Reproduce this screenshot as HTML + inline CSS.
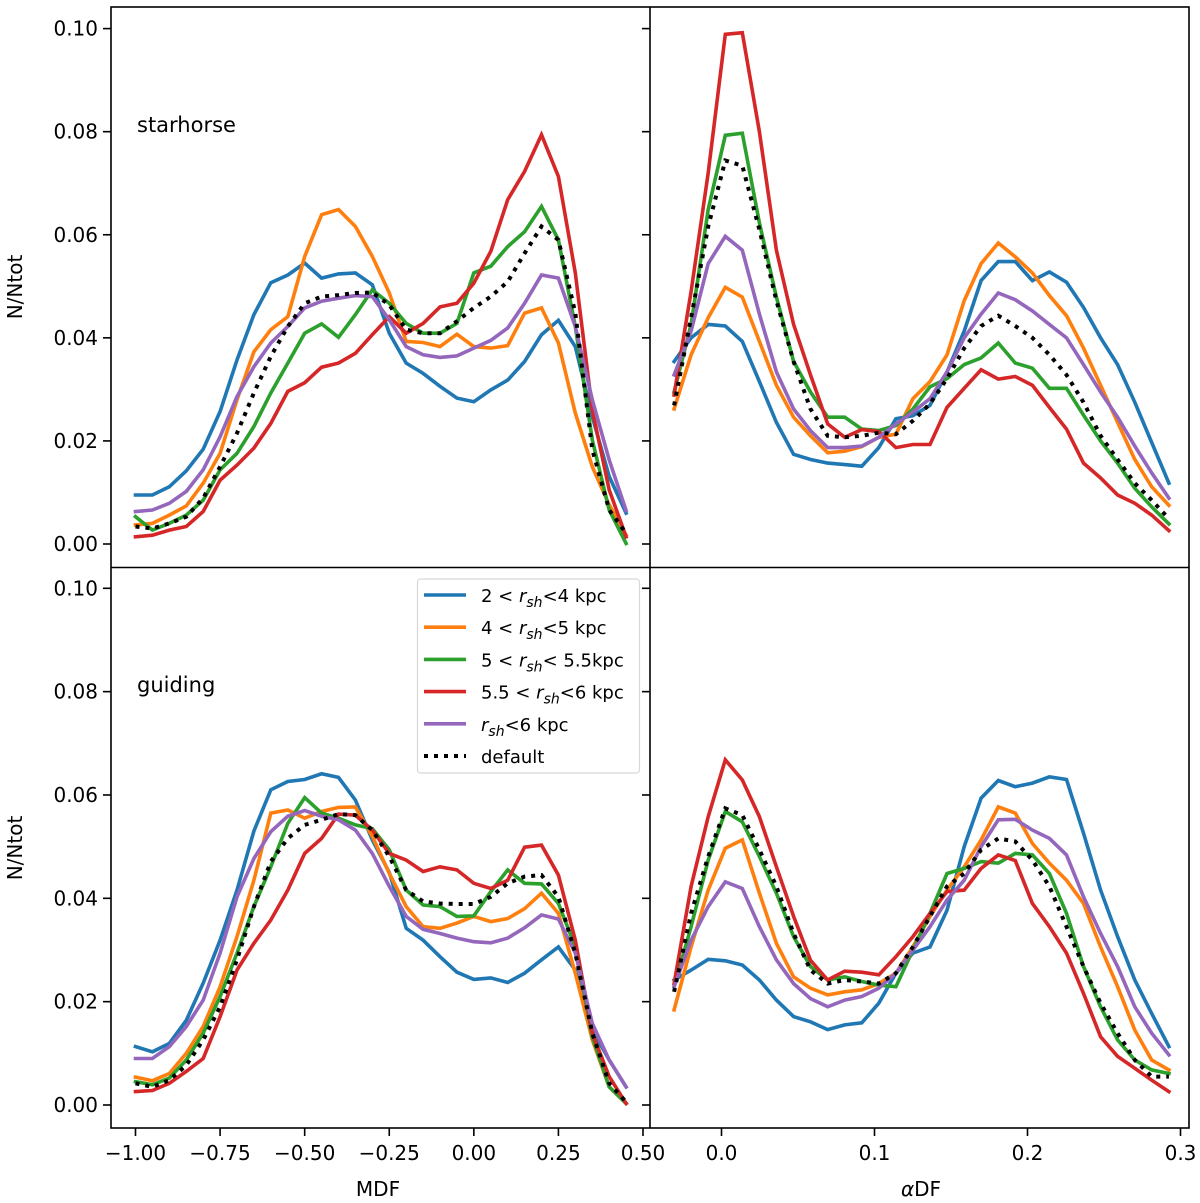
<!DOCTYPE html>
<html><head><meta charset="utf-8">
<style>
html,body{margin:0;padding:0;background:#fff;}
svg{display:block;font-family:"DejaVu Sans","Liberation Sans",sans-serif;}
</style></head>
<body>
<svg id="fig" width="1200" height="1203" viewBox="0 0 1200 1203" xmlns="http://www.w3.org/2000/svg"></svg>
<script>
// ---- data ----
const seriesNames = ["blue","orange","green","red","purple","default"];
const seriesLabels = ["2 < r_sh<4 kpc","4 < r_sh<5 kpc","5 < r_sh< 5.5kpc","5.5 < r_sh<6 kpc","r_sh<6 kpc","default"];
const seriesColors = ["#1f77b4","#ff7f0e","#2ca02c","#d62728","#9467bd","#000000"];
const mdfX = [-1.0,-0.95,-0.9,-0.85,-0.8,-0.75,-0.7,-0.65,-0.6,-0.55,-0.5,-0.45,-0.4,-0.35,-0.3,-0.25,-0.2,-0.15,-0.1,-0.05,0.0,0.05,0.1,0.15,0.2,0.25,0.3,0.35,0.4,0.45];
const adfX = [-0.031,-0.0199,-0.0087,0.0025,0.0136,0.0248,0.0359,0.0471,0.0582,0.0694,0.0805,0.0917,0.1028,0.114,0.1251,0.1363,0.1474,0.1586,0.1697,0.1809,0.192,0.2032,0.2143,0.2255,0.2366,0.2478,0.2589,0.2701,0.2812,0.2924];
// top-left: starhorse MDF
const shMdfBlue = [0.0095,0.0095,0.0111,0.0142,0.0184,0.0257,0.0357,0.0445,0.0507,0.0522,0.0545,0.0516,0.0524,0.0526,0.0503,0.0409,0.0351,0.0331,0.0306,0.0283,0.0276,0.0299,0.0318,0.0354,0.0406,0.0434,0.0383,0.0247,0.0131,0.006];
const shMdfOrange = [0.0037,0.004,0.0056,0.0074,0.0118,0.0176,0.028,0.0373,0.0416,0.0441,0.0558,0.0639,0.0649,0.0616,0.0558,0.0487,0.0393,0.0391,0.0383,0.0407,0.0383,0.038,0.0385,0.0448,0.0458,0.039,0.0254,0.015,0.0076,0.0017];
const shMdfGreen = [0.0053,0.0027,0.004,0.0056,0.0085,0.0144,0.0176,0.0228,0.0293,0.0351,0.0409,0.0427,0.0401,0.0445,0.0493,0.0467,0.0428,0.0409,0.0409,0.0428,0.0526,0.0539,0.0577,0.0606,0.0655,0.059,0.0422,0.0202,0.0066,0.0001];
const shMdfRed = [0.0014,0.0017,0.0027,0.0034,0.0063,0.0124,0.0153,0.0186,0.0234,0.0296,0.0313,0.0343,0.0351,0.037,0.0406,0.0441,0.0409,0.0428,0.046,0.0467,0.0506,0.0568,0.0668,0.0723,0.0794,0.0713,0.0526,0.026,0.0105,0.0014];
const shMdfPurple = [0.0063,0.0066,0.0079,0.0102,0.0144,0.0208,0.0286,0.0344,0.039,0.0422,0.0458,0.0471,0.0477,0.0482,0.048,0.0435,0.0383,0.0367,0.0362,0.0365,0.038,0.0395,0.0419,0.0467,0.0522,0.0516,0.0422,0.028,0.0163,0.0065];
const shMdfDefault = [0.0034,0.003,0.004,0.0053,0.0089,0.015,0.0215,0.0293,0.0364,0.0422,0.0467,0.048,0.0483,0.0487,0.0488,0.0464,0.0416,0.0409,0.0409,0.0432,0.0458,0.048,0.0509,0.0564,0.0616,0.059,0.0448,0.0183,0.0066,0.0021];
// top-right: starhorse alphaDF
const shAdfBlue = [0.0354,0.04,0.0426,0.0423,0.0393,0.0315,0.0236,0.0174,0.0164,0.0157,0.0154,0.0151,0.0187,0.0243,0.0249,0.0269,0.0334,0.0413,0.0511,0.0548,0.0548,0.0511,0.0528,0.0508,0.0459,0.04,0.0348,0.0275,0.0197,0.0118];
const shAdfOrange = [0.0262,0.0367,0.0439,0.0498,0.0479,0.0393,0.0308,0.0246,0.021,0.0177,0.018,0.0189,0.0207,0.0213,0.0282,0.0315,0.0367,0.0472,0.0544,0.0584,0.0557,0.0526,0.0482,0.0443,0.038,0.0308,0.0236,0.0164,0.0111,0.0075];
const shAdfGreen = [0.0295,0.0426,0.0649,0.0793,0.0797,0.0623,0.0479,0.0354,0.0295,0.0246,0.0246,0.0223,0.022,0.023,0.0262,0.0305,0.0321,0.0348,0.0361,0.039,0.0351,0.0341,0.0302,0.0302,0.025,0.02,0.0157,0.0108,0.0072,0.0039];
const shAdfRed = [0.0289,0.049,0.072,0.0989,0.0992,0.08,0.057,0.0426,0.0328,0.0233,0.0207,0.0222,0.0218,0.0187,0.0193,0.0193,0.0265,0.0302,0.0338,0.032,0.0325,0.0308,0.0265,0.0223,0.0157,0.0128,0.0095,0.0079,0.0056,0.0026];
const shAdfPurple = [0.0328,0.0413,0.0544,0.0597,0.057,0.0446,0.0334,0.0262,0.022,0.0187,0.0187,0.019,0.0207,0.0233,0.0256,0.0282,0.0334,0.04,0.0446,0.0487,0.0474,0.0452,0.0426,0.04,0.0348,0.0295,0.0246,0.019,0.0138,0.0089];
const shAdfDefault = [0.0269,0.0439,0.0616,0.0744,0.0734,0.061,0.0472,0.0354,0.0262,0.021,0.0207,0.021,0.0216,0.0213,0.0239,0.0272,0.0321,0.038,0.0423,0.0443,0.0423,0.04,0.0367,0.0328,0.0275,0.021,0.0164,0.0118,0.0085,0.0049];
// bottom-left: guiding MDF
const gdMdfBlue = [0.0113,0.0103,0.0119,0.0164,0.0236,0.0319,0.0416,0.053,0.061,0.0626,0.063,0.0641,0.0634,0.059,0.0513,0.045,0.0342,0.0319,0.0287,0.0257,0.0243,0.0246,0.0237,0.0255,0.0281,0.0306,0.0261,0.0145,0.0087,0.0035];
const gdMdfOrange = [0.0054,0.0047,0.0061,0.01,0.0152,0.0229,0.0326,0.0435,0.0565,0.0571,0.0555,0.0568,0.0576,0.0577,0.052,0.0448,0.0384,0.0345,0.0342,0.0352,0.0365,0.0355,0.0361,0.038,0.041,0.0371,0.0255,0.0126,0.0035,0.0003];
const gdMdfGreen = [0.0045,0.0039,0.0052,0.0087,0.0139,0.021,0.0294,0.0384,0.0461,0.0545,0.0595,0.0565,0.0555,0.0542,0.0535,0.0494,0.0416,0.0387,0.0384,0.0365,0.0366,0.0413,0.0455,0.0429,0.0428,0.039,0.0306,0.0132,0.0035,0.0003];
const gdMdfRed = [0.0026,0.0028,0.0042,0.0065,0.009,0.0171,0.0261,0.0313,0.0358,0.0416,0.0487,0.0516,0.0563,0.0561,0.0532,0.0487,0.0474,0.0452,0.0461,0.0455,0.0429,0.0419,0.0435,0.0499,0.0503,0.0445,0.0319,0.0139,0.0055,0.0003];
const gdMdfPurple = [0.009,0.009,0.0113,0.0152,0.0203,0.0294,0.0403,0.0477,0.0529,0.0559,0.057,0.0559,0.0552,0.0532,0.0487,0.0423,0.0365,0.034,0.0332,0.0323,0.0316,0.0314,0.0323,0.0343,0.0368,0.036,0.0294,0.0158,0.0087,0.0035];
const gdMdfDefault = [0.0042,0.0035,0.0048,0.0077,0.0126,0.019,0.0281,0.0384,0.0471,0.0516,0.0542,0.0552,0.0563,0.0561,0.0532,0.0481,0.0416,0.0394,0.039,0.0389,0.0389,0.0403,0.0429,0.0442,0.0445,0.0403,0.0294,0.0139,0.0042,0.0006];
// bottom-right: guiding alphaDF
const gdAdfBlue = [0.0242,0.0261,0.0282,0.0279,0.0271,0.0242,0.0203,0.0171,0.0161,0.0146,0.0155,0.0159,0.0197,0.0255,0.0294,0.0306,0.0377,0.05,0.0594,0.0628,0.0616,0.0623,0.0635,0.063,0.0526,0.0416,0.0326,0.0242,0.0177,0.0113];
const gdAdfOrange = [0.0184,0.0306,0.0416,0.0497,0.0513,0.041,0.0313,0.0248,0.0226,0.0213,0.0219,0.0223,0.0235,0.0255,0.0306,0.0365,0.0416,0.0461,0.0513,0.0577,0.0565,0.0506,0.0468,0.0435,0.039,0.0306,0.0229,0.0145,0.0087,0.0068];
const gdAdfGreen = [0.0229,0.0345,0.0474,0.0568,0.0548,0.0481,0.041,0.0326,0.0268,0.0242,0.0248,0.0239,0.0232,0.0229,0.03,0.0371,0.0448,0.0458,0.0471,0.0468,0.0487,0.0484,0.0448,0.0371,0.0268,0.019,0.0126,0.0087,0.0068,0.0061];
const gdAdfRed = [0.0235,0.0423,0.0558,0.0668,0.0629,0.0558,0.0461,0.0365,0.028,0.0242,0.0259,0.0257,0.0252,0.0287,0.0326,0.0371,0.0413,0.0416,0.0458,0.0484,0.0473,0.039,0.0345,0.0294,0.0216,0.0132,0.0094,0.0071,0.0048,0.0026];
const gdAdfPurple = [0.0229,0.0319,0.0384,0.0432,0.0419,0.0345,0.0281,0.0235,0.0206,0.019,0.0203,0.021,0.0226,0.0255,0.03,0.0345,0.0397,0.0435,0.05,0.0552,0.0553,0.0532,0.0516,0.0484,0.0403,0.0332,0.0268,0.019,0.0139,0.0097];
const gdAdfDefault = [0.0219,0.0371,0.0481,0.0574,0.0561,0.0494,0.0423,0.0332,0.0261,0.0235,0.0242,0.0239,0.0235,0.0255,0.0306,0.0365,0.0423,0.0448,0.0494,0.0516,0.051,0.0474,0.0423,0.0345,0.0268,0.0197,0.0139,0.0087,0.0055,0.0055];
const yTicks = [0.00,0.02,0.04,0.06,0.08,0.10];
const yTickLabels = ["0.00","0.02","0.04","0.06","0.08","0.10"];
const mdfTicks = [-1.0,-0.75,-0.5,-0.25,0.0,0.25,0.5];
const mdfTickLabels = ["\u22121.00","\u22120.75","\u22120.50","\u22120.25","0.00","0.25","0.50"];
const adfTicks = [0.0,0.1,0.2,0.3];
const adfTickLabels = ["0.0","0.1","0.2","0.3"];

// ---- layout ----
const NS = "http://www.w3.org/2000/svg";
const svg = document.getElementById("fig");
function mk(tag, attrs, parent){ const e=document.createElementNS(NS,tag); for(const k in attrs) e.setAttribute(k,attrs[k]); (parent||svg).appendChild(e); return e; }

const L=111, M=650, R=1189, T=7, MY=567.5, B=1128;
const xMdf = v => 135.5 + (v + 1.0) * (643 - 135.5) / 1.5;
const xAdf = v => 721.5 + v * 1530;
const yTop = v => 544 - v * 5154;
const yBot = v => 1105 - v * 5167;

const panels = [
  {name:"starhorse-mdf-panel", x:xMdf, y:yTop, xs:mdfX, clip:[L,T,M-L,MY-T], data:[shMdfBlue,shMdfOrange,shMdfGreen,shMdfRed,shMdfPurple,shMdfDefault]},
  {name:"starhorse-adf-panel", x:xAdf, y:yTop, xs:adfX, clip:[M,T,R-M,MY-T], data:[shAdfBlue,shAdfOrange,shAdfGreen,shAdfRed,shAdfPurple,shAdfDefault]},
  {name:"guiding-mdf-panel", x:xMdf, y:yBot, xs:mdfX, clip:[L,MY,M-L,B-MY], data:[gdMdfBlue,gdMdfOrange,gdMdfGreen,gdMdfRed,gdMdfPurple,gdMdfDefault]},
  {name:"guiding-adf-panel", x:xAdf, y:yBot, xs:adfX, clip:[M,MY,R-M,B-MY], data:[gdAdfBlue,gdAdfOrange,gdAdfGreen,gdAdfRed,gdAdfPurple,gdAdfDefault]}
];
const defs = mk("defs",{});
panels.forEach((p,pi)=>{
  const cp = mk("clipPath",{id:"cp"+pi},defs);
  mk("rect",{x:p.clip[0],y:p.clip[1],width:p.clip[2],height:p.clip[3]},cp);
  const g = mk("g",{"clip-path":"url(#cp"+pi+")"});
  
  
  p.data.forEach((arr,si)=>{
    const pts = arr.map((v,i)=>p.x(p.xs[i]).toFixed(1)+","+p.y(v).toFixed(1)).join(" ");
    const isDef = si===5;
    const pl = mk("polyline",{points:pts,fill:"none",stroke:seriesColors[si],"stroke-width":isDef?4:3.6,"stroke-linejoin":"miter","stroke-linecap":isDef?"butt":"square"},g);
    if(isDef) pl.setAttribute("stroke-dasharray","4 6");
    
    
  });
});

// frames
const frame = mk("g",{fill:"none",stroke:"#000","stroke-width":1.6});


mk("rect",{x:L,y:T,width:R-L,height:B-T},frame);
mk("line",{x1:M,y1:T,x2:M,y2:B},frame);
mk("line",{x1:L,y1:MY,x2:R,y2:MY},frame);

// y ticks
[[yTop],[yBot]].forEach(([yf],row)=>{
  yTicks.forEach((t,i)=>{
    const y = yf(t);
    mk("line",{x1:L-8,y1:y,x2:L,y2:y,stroke:"#000","stroke-width":1.6});
    mk("line",{x1:M-8,y1:y,x2:M,y2:y,stroke:"#000","stroke-width":1.6});
    const tx = mk("text",{x:L-13,y:y+7,"font-size":20,"text-anchor":"end",fill:"#000"});
    tx.textContent = yTickLabels[i];
    
    
  });
});
// x ticks
mdfTicks.forEach((t,i)=>{
  const x = xMdf(t);
  mk("line",{x1:x,y1:B,x2:x,y2:B+8,stroke:"#000","stroke-width":1.6});
  const tx = mk("text",{x:x,y:B+32,"font-size":20,"text-anchor":"middle",fill:"#000"});
  tx.textContent = mdfTickLabels[i];
  
  
});
adfTicks.forEach((t,i)=>{
  const x = xAdf(t);
  mk("line",{x1:x,y1:B,x2:x,y2:B+8,stroke:"#000","stroke-width":1.6});
  const tx = mk("text",{x:x,y:B+32,"font-size":20,"text-anchor":"middle",fill:"#000"});
  tx.textContent = adfTickLabels[i];
  
  
});

// axis titles
function label(txt,attrs,name){ const t=mk("text",Object.assign({"font-size":20,fill:"#000"},attrs)); t.textContent=txt;   return t; }
label("MDF",{x:378,y:1196,"text-anchor":"middle"},"x-axis-title-mdf");
const adfT = mk("text",{x:921,y:1196,"font-size":20,"text-anchor":"middle",fill:"#000"});
adfT.innerHTML = '<tspan font-style="italic">\u03b1</tspan>DF';


label("N/Ntot",{x:0,y:0,"text-anchor":"middle",transform:"translate(22,287) rotate(-90)"},"y-axis-title-top");
label("N/Ntot",{x:0,y:0,"text-anchor":"middle",transform:"translate(22,848) rotate(-90)"},"y-axis-title-bottom");
label("starhorse",{x:137,y:132,"font-size":21},"panel-label-starhorse");
label("guiding",{x:137,y:692,"font-size":21},"panel-label-guiding");

// legend
const lg = mk("g",{});


mk("rect",{x:417.5,y:579,width:222,height:194,rx:3,fill:"#fff","fill-opacity":0.8,stroke:"#d8d8d8","stroke-width":1.2},lg);
const legendHtml = [
  '2 &lt; <tspan font-style="italic">r</tspan><tspan font-style="italic" font-size="14" dy="5">sh</tspan><tspan dy="-5">&lt;4 kpc</tspan>',
  '4 &lt; <tspan font-style="italic">r</tspan><tspan font-style="italic" font-size="14" dy="5">sh</tspan><tspan dy="-5">&lt;5 kpc</tspan>',
  '5 &lt; <tspan font-style="italic">r</tspan><tspan font-style="italic" font-size="14" dy="5">sh</tspan><tspan dy="-5">&lt; 5.5kpc</tspan>',
  '5.5 &lt; <tspan font-style="italic">r</tspan><tspan font-style="italic" font-size="14" dy="5">sh</tspan><tspan dy="-5">&lt;6 kpc</tspan>',
  '<tspan font-style="italic">r</tspan><tspan font-style="italic" font-size="14" dy="5">sh</tspan><tspan dy="-5">&lt;6 kpc</tspan>',
  'default'
];
seriesNames.forEach((n,i)=>{
  const y = 595 + i*32.2;
  const ent = mk("g",{},lg);
  
  
  const ln = mk("line",{x1:424,y1:y,x2:466,y2:y,stroke:seriesColors[i],"stroke-width":i===5?4:3.6},ent);
  if(i===5) ln.setAttribute("stroke-dasharray","4 6");
  const t = mk("text",{x:481,y:y+7,"font-size":18,fill:"#000"},ent);
  t.innerHTML = legendHtml[i];
});
</script>
</body></html>
